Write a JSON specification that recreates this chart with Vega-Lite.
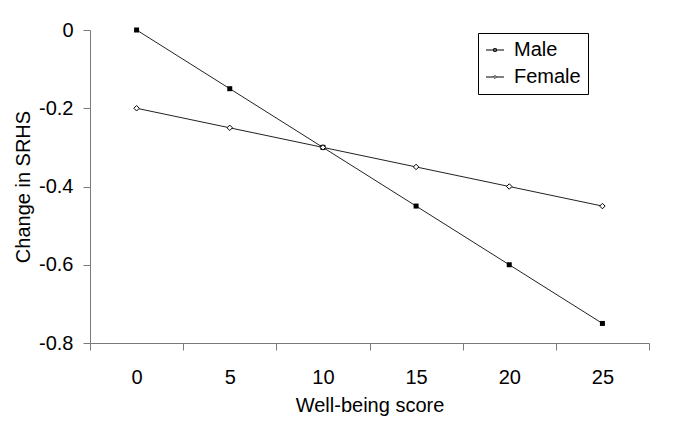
{
  "$schema": "https://vega.github.io/schema/vega-lite/v6.json",
  "autosize": "none",
  "padding": {"left": 90, "top": 30, "right": 36, "bottom": 82},
  "width": 559,
  "height": 313,
  "background": "white",
  "config": {
    "font": "Liberation Sans",
    "view": {"stroke": null},
    "axis": {
      "grid": false,
      "domainColor": "#7a7a7a",
      "tickColor": "#7a7a7a",
      "tickSize": 7,
      "labelColor": "black",
      "titleColor": "black",
      "labelFontSize": 20,
      "titleFontSize": 20,
      "titleFontWeight": "normal",
      "labelFont": "Liberation Sans",
      "titleFont": "Liberation Sans"
    },
    "legend": {
      "labelFont": "Liberation Sans",
      "labelFontSize": 20,
      "labelColor": "black"
    }
  },
  "data": {
    "values": [
      {"score": 0, "change": 0, "series": "Male"},
      {"score": 5, "change": -0.15, "series": "Male"},
      {"score": 10, "change": -0.3, "series": "Male"},
      {"score": 15, "change": -0.45, "series": "Male"},
      {"score": 20, "change": -0.6, "series": "Male"},
      {"score": 25, "change": -0.75, "series": "Male"},
      {"score": 0, "change": -0.2, "series": "Female"},
      {"score": 5, "change": -0.25, "series": "Female"},
      {"score": 10, "change": -0.3, "series": "Female"},
      {"score": 15, "change": -0.35, "series": "Female"},
      {"score": 20, "change": -0.4, "series": "Female"},
      {"score": 25, "change": -0.45, "series": "Female"}
    ]
  },
  "encoding": {
    "x": {
      "field": "score",
      "type": "quantitative",
      "scale": {"domain": [-2.5, 27.5], "nice": false, "zero": false},
      "axis": {
        "title": "Well-being score",
        "values": [-2.5, 2.5, 7.5, 12.5, 17.5, 22.5, 27.5],
        "labelExpr": "datum.value < 27 ? '' + (datum.value + 2.5) : ''",
        "labelOffset": 46.6,
        "labelFlush": false,
        "labelOverlap": false,
        "labelBound": false,
        "labelPadding": 17,
        "titlePadding": 8
      }
    },
    "y": {
      "field": "change",
      "type": "quantitative",
      "scale": {"domain": [-0.8, 0], "nice": false},
      "axis": {
        "title": "Change in SRHS",
        "values": [-0.8, -0.6, -0.4, -0.2, 0],
        "labelExpr": "'' + datum.value",
        "labelPadding": 10,
        "titlePadding": 5
      }
    }
  },
  "layer": [
    {
      "mark": {"type": "line", "color": "#222222", "strokeWidth": 1},
      "encoding": {"detail": {"field": "series", "type": "nominal"}}
    },
    {
      "transform": [{"filter": "datum.series === 'Male'"}],
      "mark": {"type": "point", "shape": "square", "filled": true, "color": "black", "opacity": 1, "size": 25}
    },
    {
      "transform": [{"filter": "datum.series === 'Female'"}],
      "mark": {"type": "point", "shape": "diamond", "filled": true, "fill": "white", "stroke": "black", "strokeWidth": 1, "opacity": 1, "size": 30}
    },
    {
      "mark": {"type": "point", "filled": false, "color": "black", "strokeWidth": 1, "opacity": 0, "size": 25},
      "encoding": {
        "shape": {
          "field": "series",
          "type": "nominal",
          "scale": {
            "domain": ["Male", "Female"],
            "range": [
              "M-1,0H1M-0.15,-0.15H0.15V0.15H-0.15Z",
              "M-1,0H-0.17M0.17,0H1M-0.17,0L0,-0.17L0.17,0L0,0.17Z"
            ]
          },
          "legend": {
            "title": null,
            "orient": "none",
            "legendX": 388,
            "legendY": 3,
            "padding": 7,
            "strokeColor": "black",
            "symbolSize": 324,
            "symbolOpacity": 1,
            "symbolStrokeColor": "black",
            "symbolStrokeWidth": 1,
            "rowPadding": 7,
            "labelOffset": 9,
            "encode": {
              "symbols": {
                "update": {
                  "fill": {"signal": "datum.value === 'Male' ? 'black' : 'white'"},
                  "stroke": {"value": "black"},
                  "strokeWidth": {"value": 1},
                  "opacity": {"value": 1}
                }
              }
            }
          }
        }
      }
    }
  ]
}
